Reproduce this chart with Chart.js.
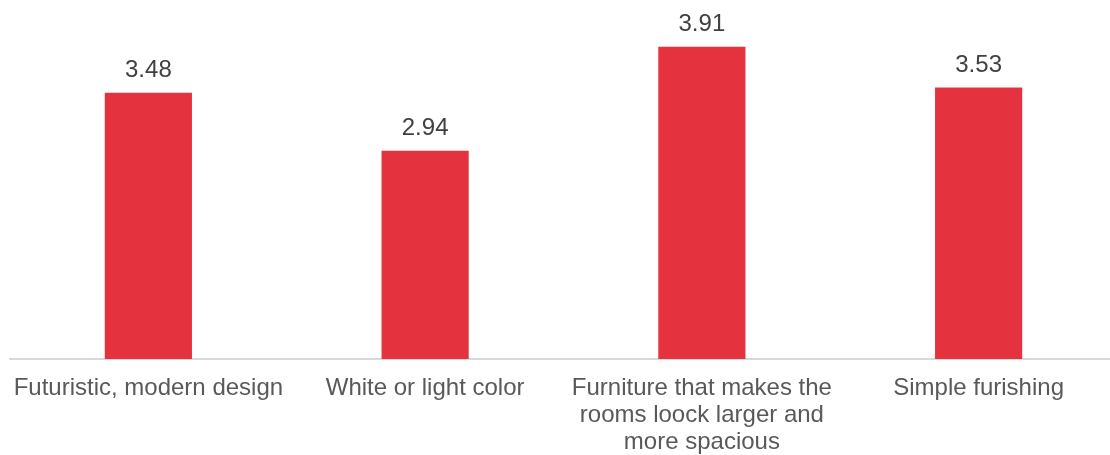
<!DOCTYPE html>
<html>
<head>
<meta charset="utf-8">
<script src="https://cdn.jsdelivr.net/npm/chart.js@4"></script>
<style>
html,body{margin:0;padding:0;background:#fff;overflow:hidden;}
#wrap{position:relative;width:1117px;height:455px;}
</style>
</head>
<body>
<div id="wrap"><canvas id="c"></canvas></div>
<script>
const categories = [
  "Futuristic, modern design",
  "White or light color",
  ["Furniture that makes the", "rooms loock larger and", "more spacious"],
  "Simple furishing"
];
const values = [3.48, 2.94, 3.91, 3.53];

const valueLabels = {
  id: 'valueLabels',
  afterDatasetsDraw(chart) {
    const ctx = chart.ctx;
    const meta = chart.getDatasetMeta(0);
    ctx.save();
    ctx.font = '24px "Liberation Sans", Arial, sans-serif';
    ctx.fillStyle = '#404040';
    ctx.textAlign = 'center';
    ctx.textBaseline = 'middle';
    meta.data.forEach((bar, i) => {
      ctx.fillText(values[i].toFixed(2), bar.x, bar.y - 22);
    });
    ctx.restore();
  }
};

new Chart(document.getElementById('c'), {
  type: 'bar',
  data: {
    labels: categories,
    datasets: [{
      data: values,
      backgroundColor: '#E5323F',
      barPercentage: 1,
      categoryPercentage: 0.315
    }]
  },
  options: {
    responsive: true,
    maintainAspectRatio: false,
    animation: false,
    layout: { padding: { left: 10, right: 0, top: 37, bottom: 0 } },
    plugins: { legend: { display: false }, tooltip: { enabled: false } },
    scales: {
      x: {
        afterFit(scale) { scale.height = 96; scale.paddingLeft = 0; scale.paddingRight = 0; },
        grid: { display: false, drawTicks: false },
        border: { display: true, color: '#d9d9d9', width: 2 },
        ticks: {
          color: '#595959',
          font: { family: '"Liberation Sans", Arial, sans-serif', size: 24, lineHeight: 1.125 },
          padding: 16,
          maxRotation: 0,
          autoSkip: false
        }
      },
      y: {
        display: false,
        min: 1,
        max: 4
      }
    }
  },
  plugins: [valueLabels]
});
</script>
</body>
</html>
